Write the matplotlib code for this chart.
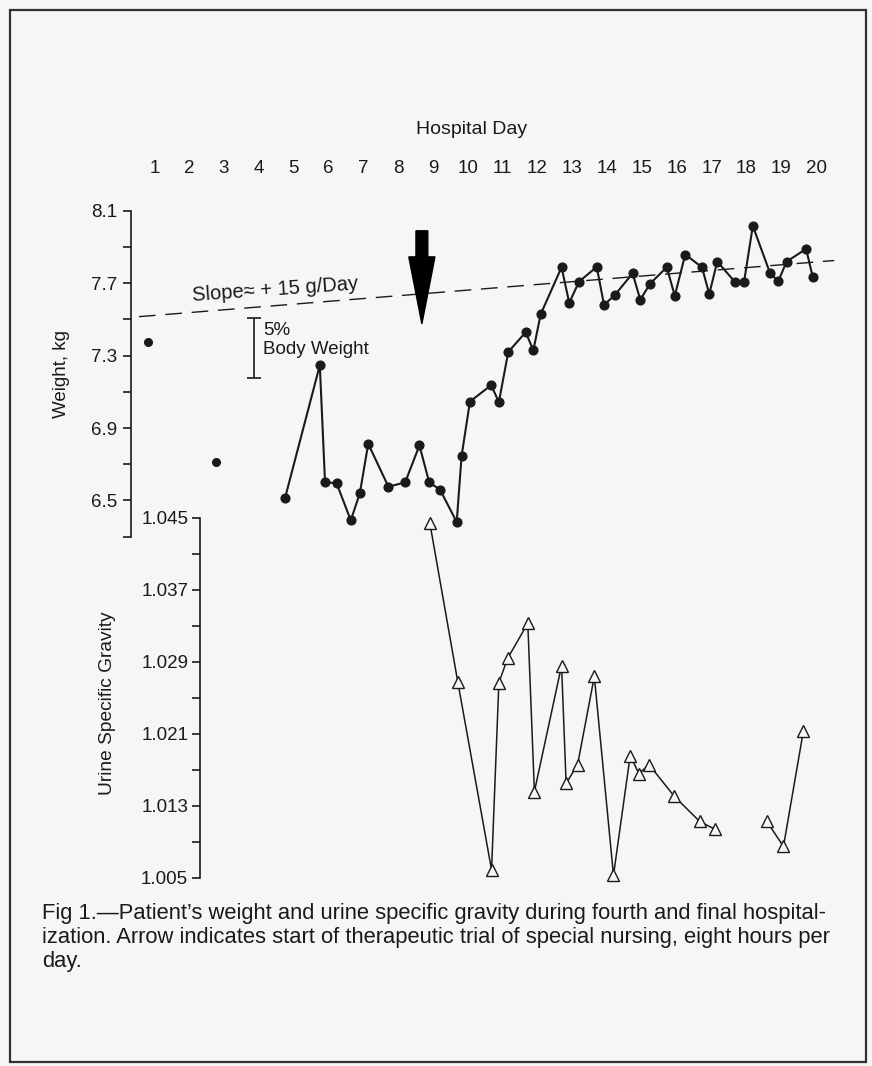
"""
Fig 1 - patient's weight and urine specific gravity by hospital day.
"""

import numpy as np
import matplotlib

matplotlib.use("Agg")
import matplotlib.pyplot as plt
from matplotlib.patches import FancyArrow, Rectangle

# ---- data ----
days = list(range(1, 21))

# early, unconnected weight readings
early_day = [0.82, 2.77]
early_kg = [7.375, 6.713]

# connected weight series
wt_day = [4.75, 5.75, 5.90, 6.23, 6.64, 6.90, 7.14, 7.72, 8.20, 8.61, 8.89,
          9.20, 9.68, 9.82, 10.06, 10.67, 10.89, 11.16, 11.66, 11.88, 12.09,
          12.69, 12.91, 13.19, 13.70, 13.91, 14.23, 14.73, 14.95, 15.23,
          15.71, 15.94, 16.24, 16.72, 16.93, 17.16, 17.68, 17.93, 18.18,
          18.67, 18.91, 19.15, 19.71, 19.90]
wt_kg = [6.512, 7.247, 6.600, 6.596, 6.390, 6.541, 6.813, 6.576, 6.600,
         6.804, 6.600, 6.560, 6.381, 6.746, 7.046, 7.137, 7.043, 7.320,
         7.429, 7.329, 7.528, 7.788, 7.591, 7.708, 7.790, 7.579, 7.637,
         7.754, 7.608, 7.697, 7.788, 7.630, 7.858, 7.788, 7.640, 7.819,
         7.704, 7.708, 8.016, 7.758, 7.710, 7.819, 7.889, 7.734]

# urine specific gravity (nan = break in the line)
sg_day = [8.91, 9.71, 10.68, 10.89, 11.14, 11.72, 11.91, 12.69, 12.82,
          13.15, 13.63, 14.18, 14.66, 14.91, 15.20, 15.92, 16.65, 17.10,
          np.nan, 18.58, 19.06, 19.63]
sg_val = [1.0444, 1.0268, 1.0059, 1.0267, 1.0294, 1.0333, 1.0146, 1.0286,
          1.0155, 1.0176, 1.0274, 1.0053, 1.0186, 1.0166, 1.0176, 1.0141,
          1.0113, 1.0104, np.nan, 1.0113, 1.0085, 1.0213]

# trend line (~ +15 g/day)
trend_day = [0.56, 20.52]
trend_kg = [7.515, 7.825]

# 5% body weight scale bar
bar_day = 3.87
bar_kg = [7.179, 7.508]

# start of special nursing (arrow)
arrow_day = 8.68
arrow_kg = [7.989, 7.475]

wt_major = [6.5, 6.9, 7.3, 7.7, 8.1]
wt_minor = [6.3, 6.7, 7.1, 7.5, 7.9]
sg_major = [1.005, 1.013, 1.021, 1.029, 1.037, 1.045]
sg_minor = [1.009, 1.017, 1.025, 1.033, 1.041]

caption = (
    "Fig 1.\u2014Patient\u2019s weight and urine specific gravity during fourth and final hospital-\n"
    "ization. Arrow indicates start of therapeutic trial of special nursing, eight hours per\n"
    "day."
)

plt.rcParams["font.family"] = ["Liberation Sans", "DejaVu Sans"]
INK = "#1a1a1a"
PAPER = "#f6f6f4"

W, H = 872, 1066
fig = plt.figure(figsize=(W / 100, H / 100), dpi=100)
fig.patch.set_facecolor(PAPER)


def px_box(left, top, right, bottom):
    return [left / W, 1 - bottom / H, (right - left) / W, (bottom - top) / H]


# ---- weight panel ----
ax_w = fig.add_axes(px_box(131, 210.7, 850, 536.7))
ax_w.set_xlim(0.33, 20.97)
ax_w.set_ylim(6.3, 8.1)
ax_w.patch.set_alpha(0)
for s in ["right", "bottom", "top"]:
    ax_w.spines[s].set_visible(False)
ax_w.spines["left"].set_color(INK)
ax_w.spines["left"].set_linewidth(1.2)

ax_w.set_yticks(wt_major)
ax_w.set_yticks(wt_minor, minor=True)
ax_w.set_yticklabels([f"{v:.1f}" for v in wt_major])
ax_w.tick_params(axis="y", which="both", direction="out", length=6, width=1.2,
                 color=INK, labelsize=13.5, pad=4, labelcolor=INK)

ax_w.xaxis.tick_top()
ax_w.set_xticks(days)
ax_w.set_xticklabels([str(d) for d in days])
ax_w.tick_params(axis="x", length=0, labelsize=13.5, pad=24, labelcolor=INK)
ax_w.xaxis.set_label_position("top")
ax_w.set_xlabel("Hospital Day", fontsize=14, color=INK)
ax_w.xaxis.set_label_coords(0.474, 1.235)

ax_w.set_ylabel("Weight, kg", fontsize=13.5, color=INK)
ax_w.yaxis.set_label_coords(-0.085, 0.5)

ax_w.plot(trend_day, trend_kg, color=INK, lw=1.0, dashes=(12, 7), clip_on=False)
ax_w.plot(early_day, early_kg, "o", color=INK, ms=5.5, clip_on=False)
ax_w.plot(wt_day, wt_kg, "-o", color=INK, lw=1.5, ms=6.3, clip_on=False)

ax_w.text(4.46, 7.666, "Slope\u2248 + 15 g/Day", fontsize=14.5, color=INK,
          ha="center", va="center", rotation=4)

ax_w.errorbar(bar_day, np.mean(bar_kg), yerr=(bar_kg[1] - bar_kg[0]) / 2,
              color=INK, lw=1.2, capsize=5, capthick=1.2, clip_on=False)
ax_w.text(bar_day + 0.25, bar_kg[1] - 0.02, "5%\nBody Weight", fontsize=13.5,
          color=INK, ha="left", va="top", linespacing=1.2)

ax_w.add_patch(FancyArrow(arrow_day, arrow_kg[0], 0, arrow_kg[1] - arrow_kg[0],
                          width=0.34, head_width=0.75, head_length=0.37,
                          length_includes_head=True, color="black",
                          clip_on=False, zorder=5))

# ---- urine specific gravity panel ----
ax_u = fig.add_axes(px_box(200, 518, 850, 878))
ax_u.set_xlim(2.31, 20.97)
ax_u.set_ylim(1.005, 1.045)
ax_u.patch.set_alpha(0)
for s in ["right", "bottom", "top"]:
    ax_u.spines[s].set_visible(False)
ax_u.spines["left"].set_color(INK)
ax_u.spines["left"].set_linewidth(1.2)
ax_u.set_xticks([])
ax_u.set_yticks(sg_major)
ax_u.set_yticks(sg_minor, minor=True)
ax_u.set_yticklabels([f"{v:.3f}" for v in sg_major])
ax_u.tick_params(axis="y", which="both", direction="out", length=5.5, width=1.2,
                 color=INK, labelsize=13.5, pad=3, labelcolor=INK)
ax_u.set_ylabel("Urine Specific Gravity", fontsize=13.8, color=INK)
ax_u.yaxis.set_label_coords(-0.129, 0.486)

ax_u.plot(sg_day, sg_val, "-^", color=INK, lw=1.1, ms=9, mfc=PAPER,
          mec=INK, mew=1.0, clip_on=False)

# ---- caption and frame ----
fig.text(42 / W, 1 - 903 / H, caption, fontsize=15.8, color=INK, ha="left",
         va="top", linespacing=1.2)

fig.add_artist(Rectangle((10 / W, 1 - 1062 / H), (866 - 10) / W, (1062 - 10) / H,
                         transform=fig.transFigure, fill=False, lw=1.6,
                         edgecolor="#333333"))

fig.savefig("out.png", dpi=100, facecolor=fig.get_facecolor())
